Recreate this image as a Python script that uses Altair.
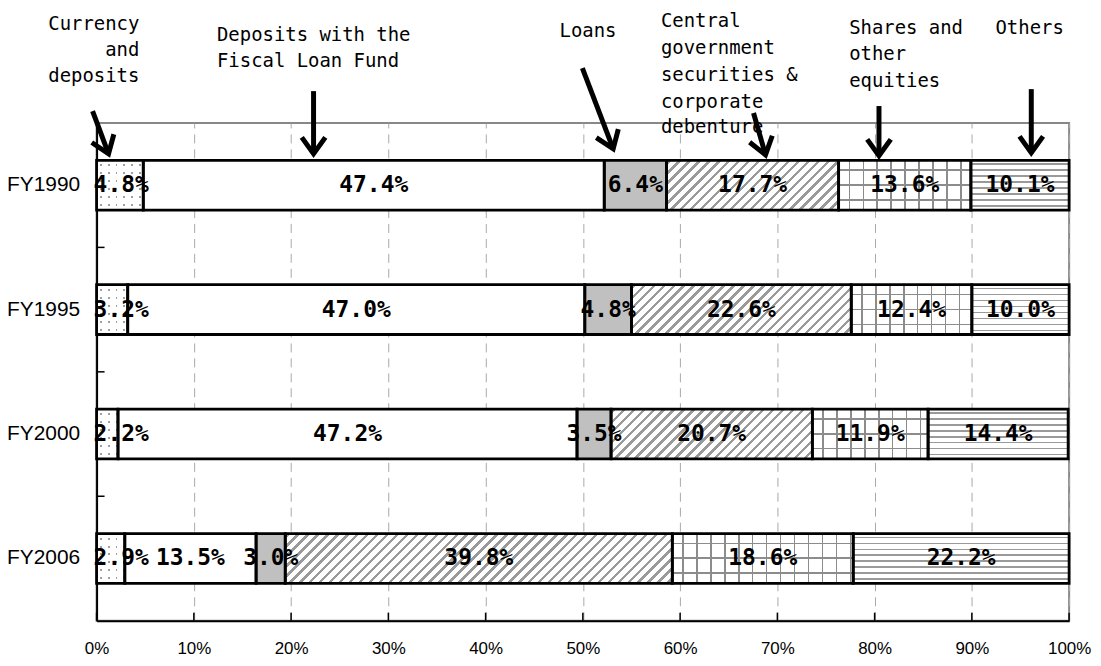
import math
import altair as alt
import pandas as pd

# ---------------- data ----------------
years = ["FY1990", "FY1995", "FY2000", "FY2006"]
categories = [
    "Currency and deposits",
    "Deposits with the Fiscal Loan Fund",
    "Loans",
    "Central government securities & corporate debenture",
    "Shares and other equities",
    "Others",
]
currency_deposits = [4.8, 3.2, 2.2, 2.9]
fiscal_loan_fund = [47.4, 47.0, 47.2, 13.5]
loans = [6.4, 4.8, 3.5, 3.0]
govt_securities = [17.7, 22.6, 20.7, 39.8]
shares_equities = [13.6, 12.4, 11.9, 18.6]
others = [10.1, 10.0, 14.4, 22.2]
x_tick_values = [0, 10, 20, 30, 40, 50, 60, 70, 80, 90, 100]

# annotation labels (x in % of axis, y in px relative to plot top)
ann_lines = ["Currency", "and", "deposits",
             "Deposits with the", "Fiscal Loan Fund",
             "Loans",
             "Central", "government", "securities &", "corporate", "debenture",
             "Shares and", "other", "equities",
             "Others"]
ann_x = [4.40, 4.40, 4.40,
         12.38, 12.38,
         47.6,
         58.03, 58.03, 58.03, 58.03, 58.03,
         77.38, 77.38, 77.38,
         92.43]
ann_y = [-99, -73, -47,
         -88, -62,
         -92,
         -102, -75, -48, -21, 4,
         -95, -69, -42,
         -95]
ann_align = ["right"] * 3 + ["left"] * 12

arrow_x1 = [-0.41, 22.31, 49.95, 67.55, 80.45, 96.11]
arrow_x2 = [1.23, 22.31, 53.12, 68.78, 80.45, 96.11]
arrow_y1 = [-12, -32, -55, -10, -17, -34]
arrow_y2 = [31, 31, 26, 32, 33, 30]

# ---------------- layout constants ----------------
W, H = 977, 500
BAR = 50

series = [currency_deposits, fiscal_loan_fund, loans, govt_securities,
          shares_equities, others]
rows = []
for si, (cat, vals) in enumerate(zip(categories, series)):
    for yi, yr in enumerate(years):
        rows.append({"year": yr, "cat": cat, "order": si,
                     "value": vals[yi], "label": f"{vals[yi]:.1f}%"})
df = pd.DataFrame(rows)

GRAY_LINE = "#9a9a9a"
CLEAR = "rgba(255,255,255,0)"


def stripe_stops(length, period, line, phase, color, bg):
    stops = [{"offset": 0, "color": bg}]
    s = phase
    while s < length:
        a = round(s / length, 5)
        b = round(min((s + line) / length, 1.0), 5)
        stops += [{"offset": a, "color": bg}, {"offset": a, "color": color},
                  {"offset": b, "color": color}, {"offset": b, "color": bg}]
        s += period
    stops.append({"offset": 1, "color": bg})
    return stops


def grad_y(period, line, phase, color, bg):
    return {"gradient": "linear", "x1": 0, "y1": 0, "x2": 0, "y2": 1,
            "stops": stripe_stops(BAR, period, line, phase, color, bg)}


def grad_x(w, period, line, phase, color, bg):
    return {"gradient": "linear", "x1": 0, "y1": 0, "x2": 1, "y2": 0,
            "stops": stripe_stops(w, period, line, phase, color, bg)}


def grad_diag(w, h, period, line, color, bg):
    k = (1 / h + 1 / w) / (1 / h ** 2 + 1 / w ** 2)
    return {"gradient": "linear", "x1": 0, "y1": 0,
            "x2": round(k / h, 6), "y2": round(k / w, 6),
            "stops": stripe_stops(w + h, period, line, 2, color, bg)}


x_scale = alt.Scale(domain=[0, 100], nice=False, zero=True)
x_axis = alt.Axis(values=x_tick_values, labelExpr="datum.value + '%'",
                  grid=True, gridDash=[9, 6], gridColor="#a8a8a8", gridWidth=1,
                  ticks=False, tickSize=0, labelPadding=20, labelFlush=False,
                  labelFont="Liberation Sans", labelFontSize=17,
                  labelColor="black", domainColor="black", domainWidth=2)
y_scale = alt.Scale(domain=years, paddingInner=0, paddingOuter=0)
y_axis = alt.Axis(ticks=False, tickSize=0, labelPadding=17,
                  labelFont="Liberation Sans", labelFontSize=21,
                  labelColor="black", domainColor="black", domainWidth=2,
                  grid=False)

X = alt.X("start:Q", scale=x_scale, axis=x_axis, title=None)
X2 = alt.X2("end")
Y = alt.Y("year:N", scale=y_scale, axis=y_axis, title=None)
BAND = alt.RelativeBandSize(band=0.4)

base = alt.Chart(df).transform_stack(
    stack="value", groupby=["year"], as_=["start", "end"],
    sort=[alt.SortField("order", order="ascending")])


def seg(order, year=None):
    c = base.transform_filter(f"datum.order == {order}")
    if year is not None:
        c = c.transform_filter(f"datum.year == '{year}'")
    return c


layers = []
# white backgrounds for all segments
layers.append(base.mark_bar(fill="white", strokeWidth=0, height=BAND)
              .encode(x=X, x2=X2, y=Y))

# Currency and deposits: dotted pattern
for yi, yr in enumerate(years):
    w = currency_deposits[yi] / 100 * W
    layers.append(seg(0, yr).mark_bar(
        fill=grad_x(w, 8, 2, 3, "#a0a0a0", CLEAR), strokeWidth=0, height=BAND
    ).encode(x=X, x2=X2, y=Y))
layers.append(seg(0).mark_bar(
    fill=grad_y(8, 2, 4, CLEAR, "white"), strokeWidth=0, height=BAND
).encode(x=X, x2=X2, y=Y))

# Loans: solid gray
layers.append(seg(2).mark_bar(fill="#c0c0c0", strokeWidth=0, height=BAND)
              .encode(x=X, x2=X2, y=Y))

# Government securities: diagonal hatch
for yi, yr in enumerate(years):
    w = govt_securities[yi] / 100 * W
    layers.append(seg(3, yr).mark_bar(
        fill=grad_diag(w, BAR, 10, 3.5, GRAY_LINE, "white"), strokeWidth=0,
        height=BAND
    ).encode(x=X, x2=X2, y=Y))

# Shares: grid
layers.append(seg(4).mark_bar(
    fill=grad_y(15, 1.5, 9, "#8c8c8c", CLEAR), strokeWidth=0, height=BAND
).encode(x=X, x2=X2, y=Y))
for yi, yr in enumerate(years):
    w = shares_equities[yi] / 100 * W
    layers.append(seg(4, yr).mark_bar(
        fill=grad_x(w, 14, 1.5, 10, "#8c8c8c", CLEAR), strokeWidth=0,
        height=BAND
    ).encode(x=X, x2=X2, y=Y))

# Others: horizontal lines
layers.append(seg(5).mark_bar(
    fill=grad_y(6, 1.5, 3, GRAY_LINE, "white"), strokeWidth=0, height=BAND
).encode(x=X, x2=X2, y=Y))

# outlines
layers.append(base.mark_bar(fillOpacity=0, stroke="black", strokeWidth=2.8,
                            height=BAND)
              .encode(x=X, x2=X2, y=Y))

# value labels
txt_style = dict(font="DejaVu Sans Mono", fontWeight="bold", fontSize=23,
                 color="black", baseline="middle")
layers.append(base.transform_filter("datum.order > 0")
              .transform_calculate(mid="(datum.start + datum.end) / 2")
              .mark_text(align="center", **txt_style)
              .encode(x=alt.X("mid:Q", scale=x_scale, axis=x_axis, title=None),
                      y=Y, text="label:N"))
layers.append(base.transform_filter("datum.order == 0")
              .mark_text(align="left", dx=-3, **txt_style)
              .encode(x=X, y=Y, text="label:N"))

# inward axis ticks
layers.append(alt.Chart(pd.DataFrame({"t": x_tick_values})).mark_rule(
    color="black", strokeWidth=1.5).encode(
    x=alt.X("t:Q", scale=x_scale, axis=x_axis, title=None),
    y=alt.value(H - 8), y2=alt.value(H)))
layers.append(alt.Chart(pd.DataFrame({"year": years[1:]})).mark_rule(
    color="black", strokeWidth=1.5).encode(
    y=alt.Y("year:N", bandPosition=0, scale=y_scale, axis=y_axis, title=None),
    x=alt.value(0), x2=alt.value(8)))

bars_group = alt.layer(*layers)

# ---------------- annotations ----------------
ann_df = pd.DataFrame({"line": ann_lines, "ax": ann_x, "ay": ann_y, "al": ann_align})
ay_scale = alt.Scale(domain=[0, H], range=[0, H], nice=False, zero=False)
ann_style = dict(font="DejaVu Sans Mono", fontSize=19, color="black", baseline="middle")
ann_left = alt.Chart(ann_df).transform_filter("datum.al == 'left'").mark_text(
    align="left", **ann_style).encode(
    x=alt.X("ax:Q", scale=x_scale, axis=x_axis, title=None),
    y=alt.Y("ay:Q", scale=ay_scale, axis=None), text="line:N")
ann_right = alt.Chart(ann_df).transform_filter("datum.al == 'right'").mark_text(
    align="right", **ann_style).encode(
    x=alt.X("ax:Q", scale=x_scale, axis=x_axis, title=None),
    y=alt.Y("ay:Q", scale=ay_scale, axis=None), text="line:N")

angles = []
for i in range(len(arrow_x1)):
    dx = (arrow_x2[i] - arrow_x1[i]) * W / 100
    dy = arrow_y2[i] - arrow_y1[i]
    angles.append(round(math.degrees(math.atan2(-dx, dy)) % 360, 2))
arr_df = pd.DataFrame({"x1": arrow_x1, "x2": arrow_x2, "y1": arrow_y1,
                       "y2": arrow_y2, "ang": angles})
arrow_lines = alt.Chart(arr_df).mark_rule(color="black", strokeWidth=5).encode(
    x=alt.X("x1:Q", scale=x_scale, axis=x_axis, title=None), x2="x2",
    y=alt.Y("y1:Q", scale=ay_scale, axis=None), y2="y2")
arrow_heads = alt.Chart(arr_df).mark_point(
    shape="M -1 -1.4 L 0 0 L 1 -1.4", filled=False, stroke="black",
    strokeWidth=5, size=560, opacity=1, strokeJoin="miter").encode(
    x=alt.X("x2:Q", scale=x_scale, axis=x_axis, title=None),
    y=alt.Y("y2:Q", scale=ay_scale, axis=None),
    angle=alt.Angle("ang:Q", scale=None))

ann_group = alt.layer(ann_left, ann_right, arrow_lines, arrow_heads)

chart = alt.layer(bars_group, ann_group).resolve_scale(y="independent").properties(
    width=W, height=H,
    autosize=alt.AutoSizeParams(type="none"),
    padding={"left": 89, "top": 114, "right": 24, "bottom": 36},
).configure(background="white").configure_view(stroke="#888888", strokeWidth=2)

chart.save("out.html", embed_options={"renderer": "svg", "actions": False})
